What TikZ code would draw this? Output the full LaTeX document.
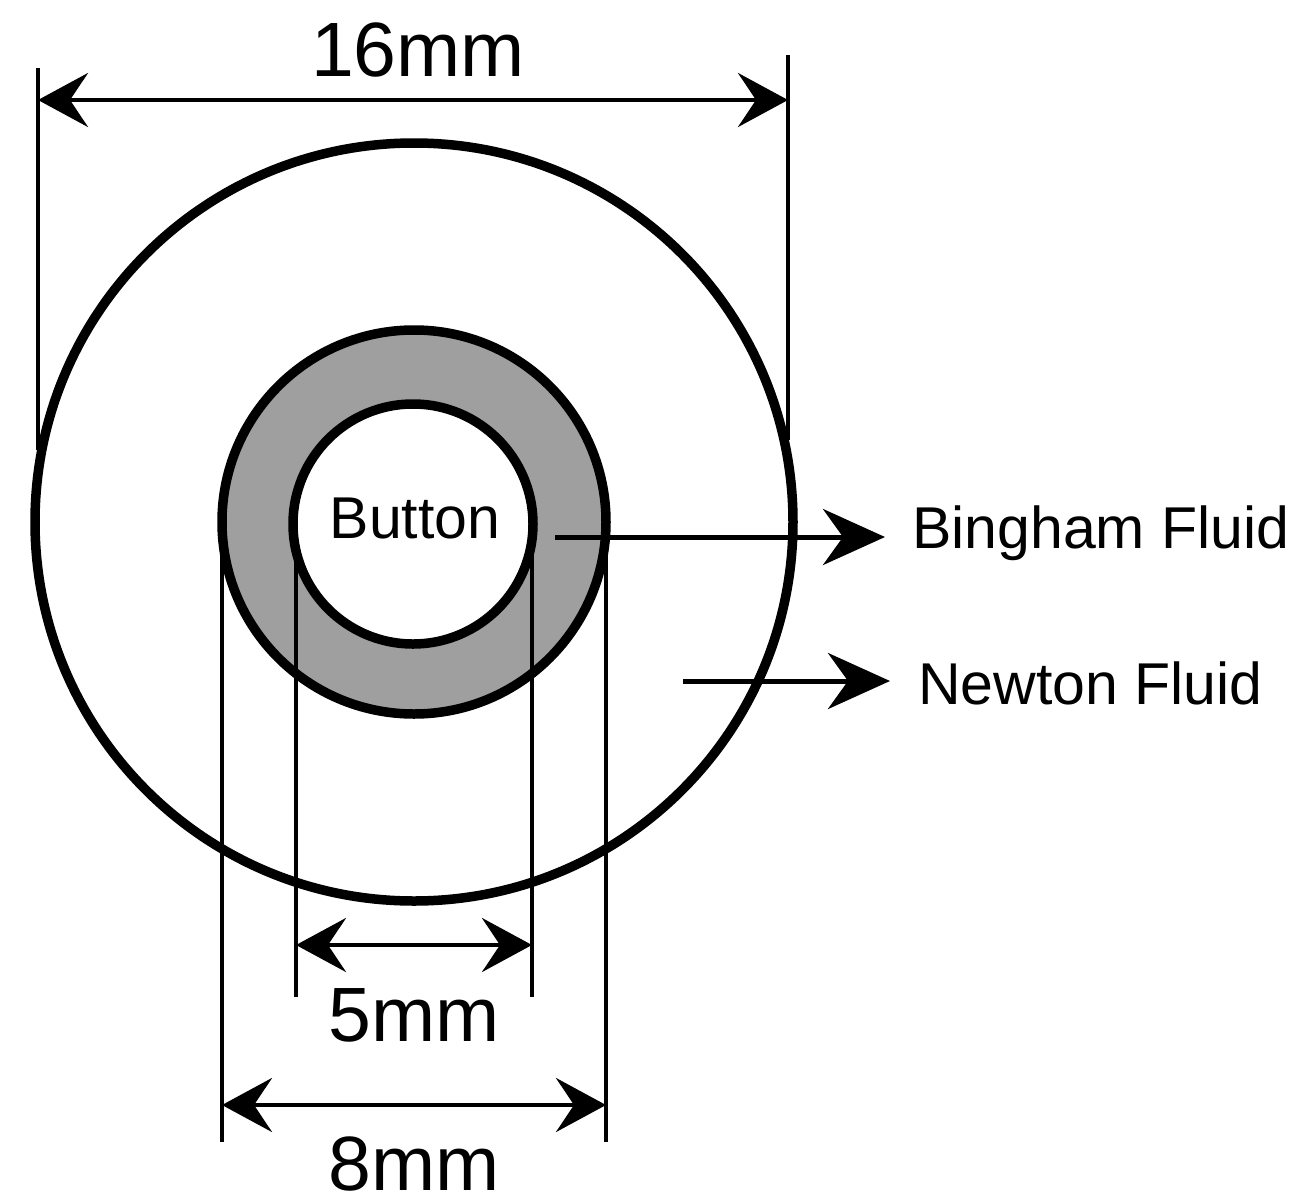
\documentclass[tikz,border=0pt]{standalone}
\usepackage{fontspec}
\setmainfont{Liberation Sans}
\usetikzlibrary{arrows.meta}
\begin{document}
\begin{tikzpicture}[x=1pt,y=-1pt,
  ring/.style={line width=9.5pt},
  dim/.style={line width=4.5pt},
  dimarrow/.style={line width=4.5pt,{Stealth[length=50pt,width=54pt,inset=18pt]}-{Stealth[length=50pt,width=54pt,inset=18pt]}},
  ptr/.style={line width=5pt,-{Stealth[length=62pt,width=56pt,inset=20pt]}},
  big/.style={font=\fontsize{77}{77}\selectfont, inner sep=0pt},
  lab/.style={font=\fontsize{59}{59}\selectfont, inner sep=0pt}]
\useasboundingbox (0,0) rectangle (1310,1203);
\coordinate (c) at (414,522);
\draw[ring] (c) circle[radius=379];
\draw[ring,fill=gray!75] (c) circle[radius=192];
\draw[ring,fill=white] (413,524) circle[radius=120];
\node[lab] (btn) at (415,518) {Button};
% 16mm
\coordinate (a1) at (38,68); \coordinate (a2) at (38,450);
\coordinate (b1) at (788,55); \coordinate (b2) at (788,440);
\draw[dim] (a1) -- (a2); \draw[dim] (b1) -- (b2);
\coordinate (l16) at (38,100); \coordinate (r16) at (788,100);
\draw[dimarrow] (l16) -- (r16);
\node[big] (t16) at (418,50) {16mm};
% 5mm
\coordinate (p1) at (296,530); \coordinate (p2) at (296,997);
\coordinate (q1) at (532,530); \coordinate (q2) at (532,997);
\draw[dim] (p1) -- (p2); \draw[dim] (q1) -- (q2);
\coordinate (l5) at (296,945); \coordinate (r5) at (532,945);
\draw[dimarrow] (l5) -- (r5);
\node[big] (t5) at (414,1015) {5mm};
% 8mm
\coordinate (m1) at (222,530); \coordinate (m2) at (222,1142);
\coordinate (n1) at (606,530); \coordinate (n2) at (606,1142);
\draw[dim] (m1) -- (m2); \draw[dim] (n1) -- (n2);
\coordinate (l8) at (222,1105); \coordinate (r8) at (606,1105);
\draw[dimarrow] (l8) -- (r8);
\node[big] (t8) at (414,1164) {8mm};
% pointers
\coordinate (bs) at (555,537); \coordinate (be) at (885,537);
\draw[ptr] (bs) -- (be);
\node[lab,anchor=west] (bing) at (912,533) {Bingham Fluid};
\coordinate (ns) at (683,681); \coordinate (ne) at (890,681);
\draw[ptr] (ns) -- (ne);
\node[lab,anchor=west] (newt) at (918,683) {Newton Fluid};
\end{tikzpicture}
\end{document}
